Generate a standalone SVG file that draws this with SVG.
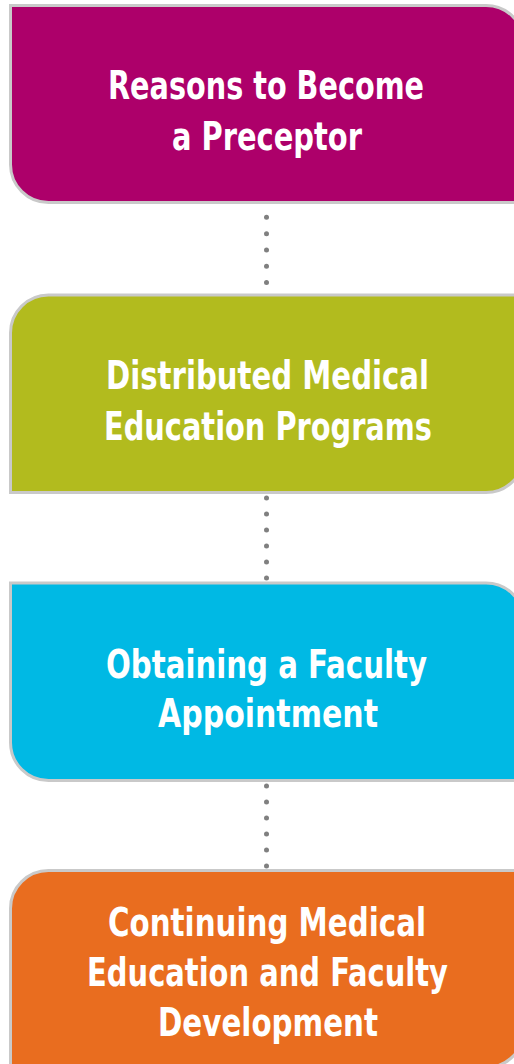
<svg xmlns="http://www.w3.org/2000/svg" width="514" height="1064" viewBox="0 0 514 1064">
<style>
.box{stroke:#c9c9c9;stroke-width:3}
.t{font-family:"Liberation Sans Narrow","DejaVu Sans Condensed","Liberation Sans",sans-serif;font-weight:bold;font-size:39px;fill:#ffffff;text-anchor:middle}
.dot{fill:#808080}
</style>
<rect width="514" height="1064" fill="#ffffff"/>
<g id="connectors">
<circle class="dot" cx="266.5" cy="217.3" r="2.5"/>
<circle class="dot" cx="266.5" cy="233.7" r="2.5"/>
<circle class="dot" cx="266.5" cy="250" r="2.5"/>
<circle class="dot" cx="266.5" cy="266.3" r="2.5"/>
<circle class="dot" cx="266.5" cy="282.5" r="2.5"/>
<circle class="dot" cx="266.5" cy="498" r="2.5"/>
<circle class="dot" cx="266.5" cy="514" r="2.5"/>
<circle class="dot" cx="266.5" cy="530" r="2.5"/>
<circle class="dot" cx="266.5" cy="546" r="2.5"/>
<circle class="dot" cx="266.5" cy="562" r="2.5"/>
<circle class="dot" cx="266.5" cy="578" r="2.5"/>
<circle class="dot" cx="266.5" cy="786" r="2.5"/>
<circle class="dot" cx="266.5" cy="802" r="2.5"/>
<circle class="dot" cx="266.5" cy="818" r="2.5"/>
<circle class="dot" cx="266.5" cy="834" r="2.5"/>
<circle class="dot" cx="266.5" cy="850" r="2.5"/>
<circle class="dot" cx="266.5" cy="866" r="2.5"/>
</g>
<g id="node1">
<path class="box" fill="#ad006a" d="M10.5,5.5 H486 A38,38 0 0 1 524,43.5 V202.5 H48.5 A38,38 0 0 1 10.5,164.5 Z"/>
<text class="t" x="266" y="99" textLength="316" lengthAdjust="spacingAndGlyphs">Reasons to Become</text>
<text class="t" x="267" y="150" textLength="190" lengthAdjust="spacingAndGlyphs">a Preceptor</text>
</g>
<g id="node2">
<path class="box" fill="#b2bb1e" d="M10.5,333 A38,38 0 0 1 48.5,295 H524 V454.5 A38,38 0 0 1 486,492.5 H10.5 Z"/>
<text class="t" x="267.5" y="389" textLength="323" lengthAdjust="spacingAndGlyphs">Distributed Medical</text>
<text class="t" x="268" y="440" textLength="328" lengthAdjust="spacingAndGlyphs">Education Programs</text>
</g>
<g id="node3">
<path class="box" fill="#00b9e4" d="M10.5,583 H486 A38,38 0 0 1 524,621 V780.5 H48.5 A38,38 0 0 1 10.5,742.5 Z"/>
<text class="t" x="266.5" y="678" textLength="321" lengthAdjust="spacingAndGlyphs">Obtaining a Faculty</text>
<text class="t" x="268" y="727" textLength="220" lengthAdjust="spacingAndGlyphs">Appointment</text>
</g>
<g id="node4">
<path class="box" fill="#e96d1f" d="M10.5,908.5 A38,38 0 0 1 48.5,870.5 H524 V1029.5 A38,38 0 0 1 486,1067.5 H10.5 Z"/>
<text class="t" x="267" y="936" textLength="318" lengthAdjust="spacingAndGlyphs">Continuing Medical</text>
<text class="t" x="267.5" y="986" textLength="361" lengthAdjust="spacingAndGlyphs">Education and Faculty</text>
<text class="t" x="268" y="1036" textLength="220" lengthAdjust="spacingAndGlyphs">Development</text>
</g>
</svg>
